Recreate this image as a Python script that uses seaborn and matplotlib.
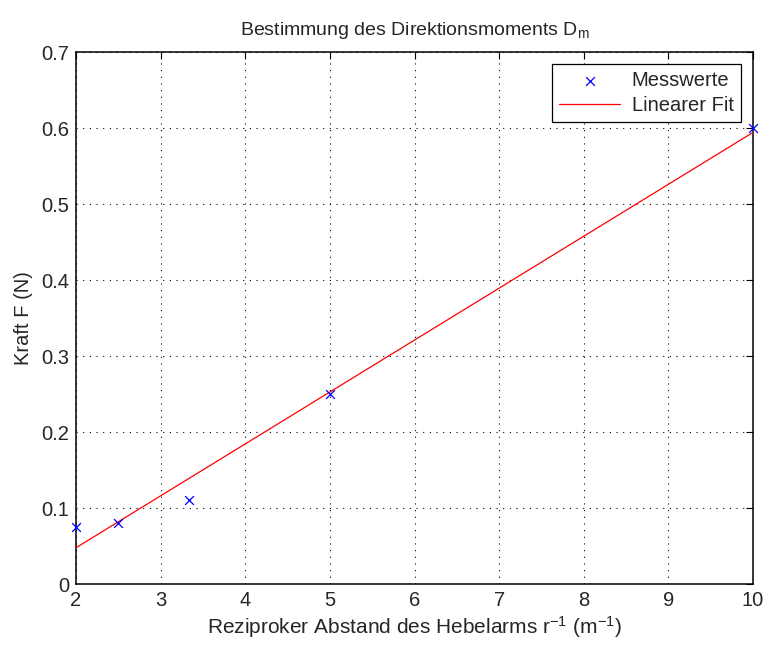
import matplotlib
matplotlib.use("Agg")
import matplotlib.pyplot as plt
import seaborn as sns
import pandas as pd

# Data
x_mess = [2.0, 2.5, 3.333, 5.0, 10.0]
y_mess = [0.075, 0.08, 0.11, 0.25, 0.60]
x_fit = [2.0, 10.0]
y_fit = [0.0477, 0.5942]

x_ticks = [2, 3, 4, 5, 6, 7, 8, 9, 10]
y_ticks = [0, 0.1, 0.2, 0.3, 0.4, 0.5, 0.6, 0.7]
y_ticklabels = ["0", "0.1", "0.2", "0.3", "0.4", "0.5", "0.6", "0.7"]

sns.set_style("white")
plt.rcParams["font.family"] = ["Liberation Sans", "DejaVu Sans"]
plt.rcParams["mathtext.fontset"] = "custom"
plt.rcParams["mathtext.rm"] = "Liberation Sans"
plt.rcParams["mathtext.it"] = "Liberation Sans"
plt.rcParams["mathtext.bf"] = "Liberation Sans:bold"

df_mess = pd.DataFrame({"x": x_mess, "y": y_mess})
df_fit = pd.DataFrame({"x": x_fit, "y": y_fit})

fig = plt.figure(figsize=(7.65, 6.45), dpi=100)
ax = fig.add_axes([76 / 765, 1 - 584 / 645, (753 - 76) / 765, (584 - 52) / 645])

sns.scatterplot(data=df_mess, x="x", y="y", ax=ax, marker="x", color="#0000ff",
                s=40, linewidth=0.9, label="Messwerte", clip_on=False, zorder=4)
sns.lineplot(data=df_fit, x="x", y="y", ax=ax, color="#ff0000", linewidth=0.9,
             label="Linearer Fit", zorder=3)

ax.set_xlim(2, 10)
ax.set_ylim(0, 0.7)
ax.set_xticks(x_ticks)
ax.set_yticks(y_ticks)
ax.set_yticklabels(y_ticklabels)
ax.tick_params(direction="in", top=True, right=True, labelsize=14.5, length=5,
               width=0.8, color="black", pad=5)
ax.grid(True, linestyle=(0, (1, 5)), color="black", linewidth=0.8)
for s in ax.spines.values():
    s.set_visible(True)
    s.set_color("black")
    s.set_linewidth(1.1)

ax.set_xlabel(r"Reziproker Abstand des Hebelarms r$^{-1}$ (m$^{-1}$)", fontsize=15, labelpad=3)
ax.set_ylabel("Kraft F (N)", fontsize=14.5, labelpad=6)
ax.set_title(r"Bestimmung des Direktionsmoments D$_{m}$", fontsize=14, pad=12)

leg = ax.legend(loc="upper right", fontsize=14.5, frameon=True, fancybox=False,
                edgecolor="black", framealpha=1, borderaxespad=0.6,
                handlelength=3.0, handletextpad=0.6, borderpad=0.35, labelspacing=0.3)
leg.get_frame().set_linewidth(0.9)

fig.savefig("out.png", dpi=100)
